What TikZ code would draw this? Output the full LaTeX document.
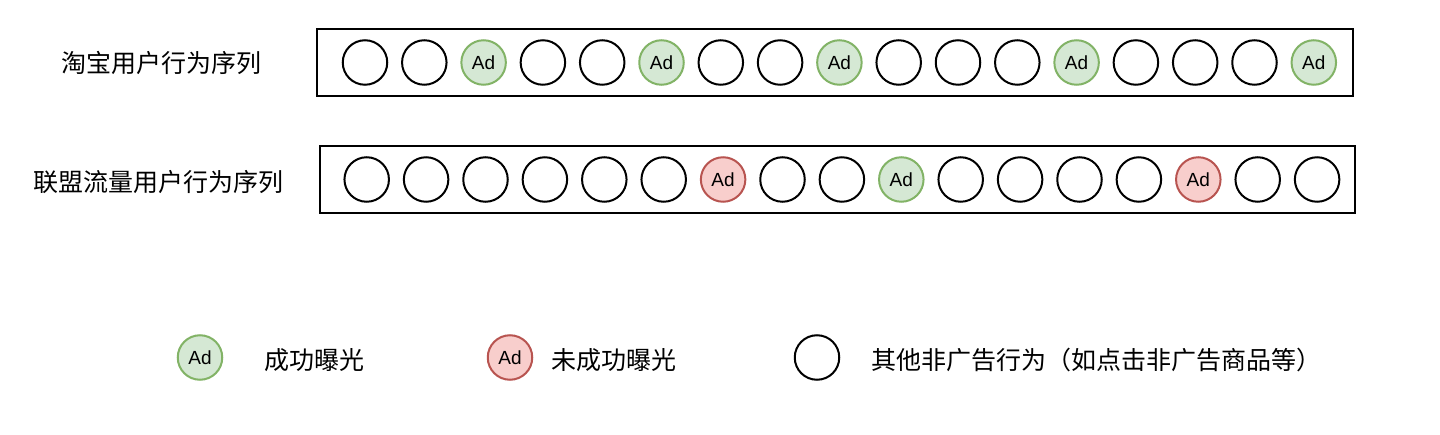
\documentclass[tikz,border=0pt]{standalone}
\usepackage{fontspec}
\setmainfont{Liberation Sans}
\newfontfamily\cjk{Noto Sans CJK SC}
\definecolor{gfill}{HTML}{D5E8D4}
\definecolor{gline}{HTML}{82B366}
\definecolor{rfill}{HTML}{F8CECC}
\definecolor{rline}{HTML}{B85450}
\begin{document}
\begin{tikzpicture}[x=1pt,y=-1pt,
  seqbox/.style={draw=black,line width=2pt},
  evo/.style={circle,draw=black,line width=2pt,minimum size=44.5pt,inner sep=0pt},
  evg/.style={evo,draw=gline,fill=gfill,font=\fontsize{19}{19}\selectfont},
  evr/.style={evo,draw=rline,fill=rfill,font=\fontsize{19}{19}\selectfont},
  lbl/.style={anchor=base west,inner sep=0pt,font=\cjk\fontsize{25}{25}\selectfont}]
\useasboundingbox[fill=white] (0,0) rectangle (1440,435);
% row 1
\draw[seqbox] (317,29) rectangle (1353,96);
\node[lbl] (l1) at (61,72.5) {淘宝用户行为序列};
\foreach \t [count=\i from 0] in {o,o,g,o,o,g,o,o,g,o,o,o,g,o,o,o,g}{
  \if\t g
    \node[evg] (a\i) at ({365+59.3*\i},62.5) {Ad};
  \else
    \node[evo] (a\i) at ({365+59.3*\i},62.5) {};
  \fi
}
% row 2
\draw[seqbox] (320,146) rectangle (1355,213);
\node[lbl] (l2) at (33,192) {联盟流量用户行为序列};
\foreach \t [count=\i from 0] in {o,o,o,o,o,o,r,o,o,g,o,o,o,o,r,o,o}{
  \if\t g
    \node[evg] (b\i) at ({366.7+59.4*\i},179.5) {Ad};
  \else\if\t r
    \node[evr] (b\i) at ({366.7+59.4*\i},179.5) {Ad};
  \else
    \node[evo] (b\i) at ({366.7+59.4*\i},179.5) {};
  \fi\fi
}
% legend
\node[evg] (lg) at (200,357.5) {Ad};
\node[lbl] (lgt) at (264,370) {成功曝光};
\node[evr] (lr) at (510,357.5) {Ad};
\node[lbl] (lrt) at (551,370) {未成功曝光};
\node[evo] (lo) at (817,357.5) {};
\node[lbl] (lot) at (871,370) {其他非广告行为（如点击非广告商品等）};
\end{tikzpicture}
\end{document}
